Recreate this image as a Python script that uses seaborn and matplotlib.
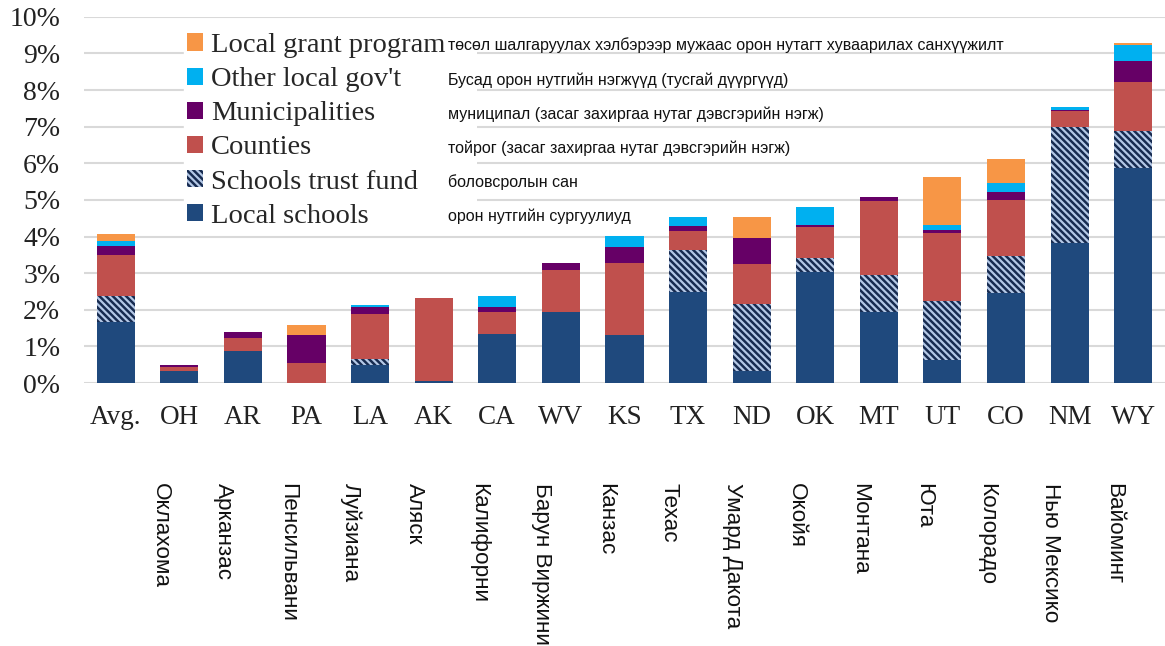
import numpy as np
import pandas as pd
import matplotlib
matplotlib.use('Agg')
import matplotlib.pyplot as plt
import seaborn as sns
from matplotlib.patches import Patch, Rectangle
from matplotlib.transforms import blended_transform_factory

states = ['Avg.', 'OH', 'AR', 'PA', 'LA', 'AK', 'CA', 'WV', 'KS', 'TX', 'ND', 'OK', 'MT', 'UT', 'CO', 'NM', 'WY']
states_mn = ['', 'Оклахома', 'Арканзас', 'Пенсильвани', 'Луйзиана', 'Аляск', 'Калифорни', 'Барун Виржини',
             'Канзас', 'Техас', 'Умард Дакота', 'Окойя', 'Монтана', 'Юта', 'Колорадо', 'Нью Мексико', 'Вайоминг']

# segment values, % of total
local_schools = [1.68, 0.34, 0.88, 0.00, 0.50, 0.06, 1.34, 1.93, 1.30, 2.48, 0.32, 3.03, 1.95, 0.62, 2.45, 3.83, 5.86]
trust_fund    = [0.71, 0.00, 0.00, 0.00, 0.16, 0.00, 0.00, 0.00, 0.00, 1.16, 1.84, 0.38, 1.00, 1.62, 1.03, 3.15, 1.02]
counties      = [1.11, 0.09, 0.35, 0.55, 1.22, 2.27, 0.59, 1.16, 1.99, 0.51, 1.09, 0.86, 2.02, 1.87, 1.52, 0.45, 1.33]
municipal     = [0.24, 0.07, 0.16, 0.77, 0.21, 0.00, 0.14, 0.20, 0.42, 0.14, 0.70, 0.05, 0.10, 0.07, 0.21, 0.02, 0.59]
other_gov     = [0.15, 0.00, 0.00, 0.00, 0.05, 0.00, 0.32, 0.00, 0.31, 0.24, 0.00, 0.50, 0.00, 0.14, 0.26, 0.09, 0.44]
grant_prog    = [0.17, 0.00, 0.00, 0.27, 0.00, 0.00, 0.00, 0.00, 0.00, 0.00, 0.59, 0.00, 0.00, 1.31, 0.64, 0.00, 0.05]

labels_en = ['Local grant program', "Other local gov't", 'Municipalities', 'Counties', 'Schools trust fund', 'Local schools']
labels_mn = ['төсөл шалгаруулах хэлбэрээр мужаас орон нутагт хуваарилах санхүүжилт',
             'Бусад орон нутгийн нэгжүүд (тусгай дүүргүүд)',
             'муниципал (засаг захиргаа нутаг дэвсгэрийн нэгж)',
             'тойрог (засаг захиргаа нутаг дэвсгэрийн нэгж)',
             'боловсролын сан',
             'орон нутгийн сургуулиуд']
colors = ['#F79646', '#00B0F0', '#660066', '#C0504D', '#172B50', '#1F497D']
hatch_col = '#B4C8E6'

sns.set_theme(style='white')
plt.rcParams['font.family'] = ['Liberation Serif', 'DejaVu Serif']
plt.rcParams['hatch.linewidth'] = 1.6

df = pd.DataFrame({'state': states, 'local': local_schools, 'trust': trust_fund, 'counties': counties,
                   'muni': municipal, 'other': other_gov, 'grant': grant_prog})
layers = ['local', 'trust', 'counties', 'muni', 'other', 'grant']
cum = df[layers].cumsum(axis=1)

fig = plt.figure(figsize=(11.65, 6.46), dpi=100)
ax = fig.add_axes([0.072, 0.407, 0.928, 0.567])

# draw cumulative totals from top layer down so lower layers overlap
for layer, col in zip(layers[::-1], colors):
    if layer == 'trust':
        kw = dict(hatch='\\\\\\\\\\', edgecolor=hatch_col, linewidth=0)
    else:
        kw = dict(linewidth=0)
    sns.barplot(x=df['state'], y=cum[layer], color=col, saturation=1, width=0.6, ax=ax, zorder=2, **kw)

ax.set_ylim(0, 10)
ax.set_xlim(-0.5, len(states) - 0.5)
ax.set_yticks(range(0, 11))
ax.set_yticklabels([f'{v}%' for v in range(0, 11)])
ax.yaxis.grid(True, color='#D9D9D9', linewidth=1.5, zorder=0)
ax.set_axisbelow(True)
for s in ax.spines.values():
    s.set_visible(False)
ax.set_xlabel('')
ax.set_ylabel('')
ax.tick_params(axis='y', length=0, pad=17, labelsize=20, labelcolor='#222222')
ax.tick_params(axis='x', length=0, pad=16, labelsize=19.5, labelcolor='#222222')

# white area behind the legend text block
ax.add_patch(Rectangle((440 / 1165, 1 - 232 / 646), 37 / 1165, 207 / 646, transform=fig.transFigure,
                       facecolor='white', edgecolor='none', zorder=1))

handles = [Patch(facecolor=colors[i], edgecolor='none') for i in range(6)]
handles[4] = Patch(facecolor=colors[4], edgecolor=hatch_col, hatch='\\\\\\\\\\', linewidth=0)
leg = ax.legend(handles, labels_en, loc='upper left', bbox_to_anchor=(170 / 1165, 1 - 16 / 646),
                bbox_transform=fig.transFigure, fontsize=20.5, frameon=True, framealpha=1,
                edgecolor='white', facecolor='white', handlelength=0.55, handleheight=0.55,
                handletextpad=0.3, labelspacing=0.32, borderpad=0.1, fancybox=False)

ys = [45, 80, 114, 148, 182, 216]
for lab, y in zip(labels_mn, ys):
    fig.text(448 / 1165, 1 - y / 646, lab, family=['Liberation Sans', 'DejaVu Sans'],
             fontsize=11.5, va='center', ha='left', color='#111111', zorder=5)

trans = blended_transform_factory(ax.transData, ax.transAxes)
for i, lab in enumerate(states_mn):
    if lab:
        ax.text(i - 0.3, -0.272, lab, transform=trans, rotation=270, ha='center', va='top',
                family=['Liberation Sans', 'DejaVu Sans'], fontsize=16.2, color='#111111')

fig.savefig('out.png', dpi=100)
